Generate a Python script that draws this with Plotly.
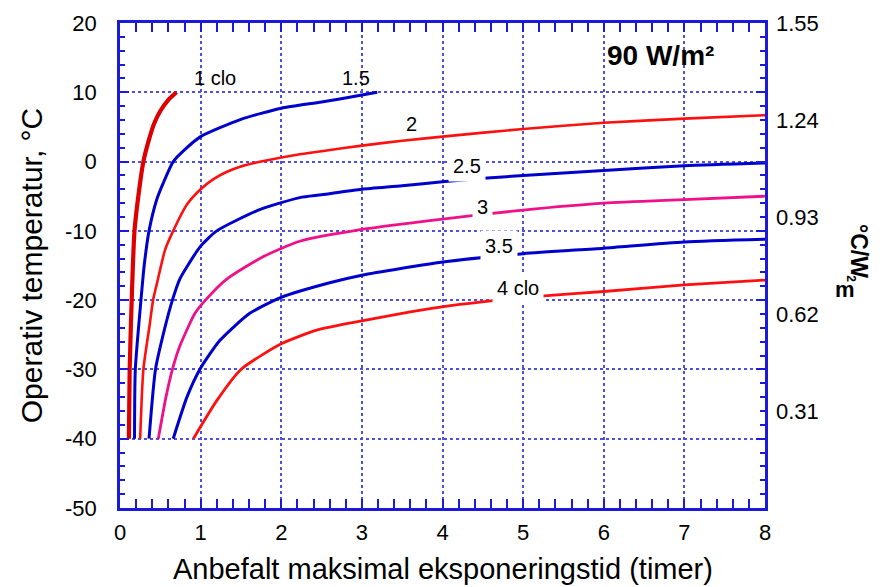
import plotly.graph_objects as go

# ---- data ----
clo_1_h = [0.11, 0.12, 0.145, 0.18, 0.25, 0.29, 0.36, 0.42, 0.50, 0.60, 0.70]
clo_1_t = [-40, -30, -20, -10, -3, 0, 3.2, 5.4, 7.3, 8.9, 10]

clo_15_h = [0.18, 0.19, 0.26, 0.30, 0.36, 0.455, 0.54, 0.66, 0.81, 1.0, 1.5, 2.0, 2.5, 3.0, 3.19]
clo_15_t = [-40, -30, -20, -15, -10, -5.5, -3, 0, 1.8, 3.6, 6.1, 7.7, 8.6, 9.6, 10]

clo_2_h = [0.25, 0.29, 0.37, 0.41, 0.46, 0.56, 0.66, 0.83, 1.0, 1.15, 1.32, 1.5, 1.75, 2.23, 2.5, 3.0, 3.5, 4.0, 5.0, 6.0, 7.0, 8.0]
clo_2_t = [-40, -30, -23.4, -20, -17.5, -12.7, -10, -6.2, -4.0, -2.6, -1.5, -0.7, 0, 1.06, 1.5, 2.3, 3.0, 3.6, 4.7, 5.6, 6.2, 6.7]

clo_25_h = [0.36, 0.44, 0.55, 0.65, 0.74, 0.84, 1.0, 1.2, 1.74, 2.23, 2.5, 3.0, 3.5, 4.0, 5.0, 6.0, 7.0, 8.0]
clo_25_t = [-40, -30, -24.3, -20, -17, -15, -12.2, -10, -6.9, -5.2, -4.8, -4.0, -3.5, -2.9, -2.0, -1.3, -0.6, -0.2]

clo_3_h = [0.475, 0.57, 0.65, 0.74, 0.93, 1.06, 1.32, 1.78, 2.23, 3.0, 4.0, 5.0, 6.0, 7.0, 8.0]
clo_3_t = [-40, -34, -30, -26.7, -21.9, -20, -17, -13.7, -11.5, -9.8, -8.3, -7.0, -6.0, -5.5, -5.0]

clo_35_h = [0.66, 0.83, 0.99, 1.24, 1.61, 2.0, 2.6, 3.0, 4.0, 5.0, 6.0, 7.0, 8.0]
clo_35_t = [-40, -34, -30, -25.8, -21.9, -19.6, -17.5, -16.4, -14.5, -13.3, -12.5, -11.6, -11.2]

clo_4_h = [0.91, 1.2, 1.5, 2.0, 2.45, 3.0, 3.6, 4.1, 4.6, 5.34, 6.0, 7.0, 8.0]
clo_4_t = [-40, -34.5, -30, -26.3, -24.3, -23.0, -21.7, -20.8, -20.1, -19.3, -18.75, -17.8, -17.1]

x_ticks = [0, 1, 2, 3, 4, 5, 6, 7, 8]
y_ticks = [-50, -40, -30, -20, -10, 0, 10, 20]
y_ticktext = ["-50", "-40", "-30", "-20", "-10", "0", "10", "20"]
r_ticks = [0.31, 0.62, 0.93, 1.24, 1.55]
r_ticktext = ["0.31", "0.62", "0.93", "1.24", "1.55"]

labels = ["1 clo", "1.5", "2", "2.5", "3", "3.5", "4 clo"]
label_x = [1.18, 2.93, 3.62, 4.31, 4.49, 4.70, 4.94]
label_y = [12.1, 12.1, 5.4, -0.7, -6.5, -12.2, -18.3]
label_bg = [False, False, False, True, True, True, True]

FONT = "Liberation Sans, Arial, sans-serif"
RED_DARK = "#dd0000"
BLUE = "#0000cc"
RED = "#ff1010"
PINK = "#ee1188"

series = [
    (clo_1_h, clo_1_t, RED_DARK, 4.2),
    (clo_15_h, clo_15_t, BLUE, 3),
    (clo_2_h, clo_2_t, RED, 2.6),
    (clo_25_h, clo_25_t, BLUE, 3),
    (clo_3_h, clo_3_t, PINK, 2.8),
    (clo_35_h, clo_35_t, BLUE, 3),
    (clo_4_h, clo_4_t, RED, 2.8),
]

fig = go.Figure()
for h, t, c, w in series:
    fig.add_trace(go.Scatter(x=h, y=t, mode="lines",
                             line=dict(color=c, width=w, shape="spline", smoothing=0.6),
                             showlegend=False, hoverinfo="skip"))

AX = "#1a1ad8"
GRID = "#5050e0"

fig.update_layout(
    width=885, height=587,
    margin=dict(l=120, r=120, t=23, b=79, autoexpand=False),
    paper_bgcolor="white", plot_bgcolor="white",
    font=dict(family=FONT, color="black", size=22),
    showlegend=False,
    xaxis=dict(
        range=[0, 8], tickvals=x_ticks, ticks="inside", ticklen=9, tickwidth=2, tickcolor=AX,
        minor=dict(dtick=0.2, ticks="inside", ticklen=5, tickwidth=1.5, tickcolor=AX, showgrid=False),
        showline=True, linecolor=AX, linewidth=2.5, mirror="allticks",
        showgrid=True, gridcolor=GRID, gridwidth=1.6, griddash="dot",
        zeroline=False, tickfont=dict(size=22), ticklabelstandoff=3, automargin=False,
    ),
    yaxis=dict(
        range=[-50, 20], tickvals=y_ticks, ticktext=y_ticktext,
        ticks="inside", ticklen=9, tickwidth=2, tickcolor=AX,
        minor=dict(dtick=2, ticks="inside", ticklen=5, tickwidth=1.5, tickcolor=AX, showgrid=False),
        showline=True, linecolor=AX, linewidth=2.5, mirror="allticks",
        showgrid=True, gridcolor=GRID, gridwidth=1.6, griddash="dot",
        zeroline=False, tickfont=dict(size=22), ticklabelstandoff=16, automargin=False,
        title=dict(text="Operativ temperatur, °C", font=dict(size=30), standoff=14),
    ),
    yaxis2=dict(
        range=[0, 1.55], overlaying="y", side="right", anchor="x",
        tickvals=r_ticks, ticktext=r_ticktext, ticks="", showline=False,
        showgrid=False, zeroline=False, tickfont=dict(size=22), ticklabelstandoff=10,
        automargin=False,
    ),
)

# invisible trace on the right axis so it is drawn (uses the axis' own tick values)
fig.add_trace(go.Scatter(x=[None] * len(r_ticks), y=r_ticks, yaxis="y2", mode="lines",
                         line=dict(width=0), showlegend=False, hoverinfo="skip"))

for txt, lx, ly, bg in zip(labels, label_x, label_y, label_bg):
    fig.add_annotation(x=lx, y=ly, text=txt, showarrow=False,
                       font=dict(size=20, family=FONT, color="black"),
                       bgcolor="white" if bg else "rgba(0,0,0,0)", borderpad=4 if bg else 0)

fig.add_annotation(x=6.70, y=15.3, text="<b>90 W/m²</b>", showarrow=False,
                   font=dict(size=28, family=FONT, color="black"))

# x-axis title
fig.add_annotation(xref="paper", yref="paper", x=0.5, y=-0.125, yanchor="middle",
                   text="Anbefalt maksimal eksponeringstid (timer)", showarrow=False,
                   font=dict(size=29, family=FONT, color="black"))

# right-hand unit label
fig.add_annotation(xref="paper", yref="paper", x=1.169, y=0.530, text="<b>°C/W</b>",
                   textangle=90, showarrow=False, font=dict(size=23, family=FONT, color="black"))
fig.add_annotation(xref="paper", yref="paper", x=1.1426, y=0.4495, text="<b>m</b>",
                   showarrow=False, font=dict(size=22, family=FONT, color="black"))
fig.add_annotation(xref="paper", yref="paper", x=1.147, y=0.472, text="<b>2</b>",
                   textangle=90, showarrow=False, font=dict(size=12, family=FONT, color="black"))

fig.write_html("out.html")
